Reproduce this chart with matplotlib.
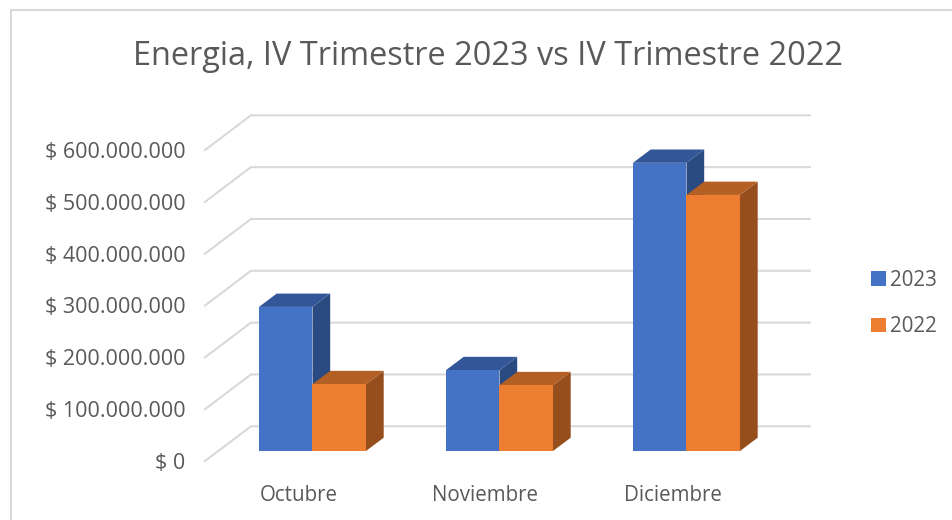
import matplotlib
matplotlib.use("Agg")
import matplotlib.pyplot as plt
from matplotlib.lines import Line2D
from matplotlib.patches import Patch, Polygon

categories = ["Octubre", "Noviembre", "Diciembre"]
series_names = ["2023", "2022"]
values_2023 = [278e6, 156e6, 556e6]
values_2022 = [129e6, 127e6, 494e6]
y_ticks = [0, 100e6, 200e6, 300e6, 400e6, 500e6, 600e6]
y_labels = ["$ 0", "$ 100.000.000", "$ 200.000.000", "$ 300.000.000",
            "$ 400.000.000", "$ 500.000.000", "$ 600.000.000"]
title = "Energia, IV Trimestre 2023 vs IV Trimestre 2022"

W, H = 953, 520
TEXT = "#595959"
GRID = "#d9d9d9"
FRONT = ["#4472c4", "#ed7d31"]
TOP = ["#325697", "#b45f24"]
SIDE = ["#2a4a82", "#964f1c"]

plt.rcParams["font.family"] = ["Open Sans", "DejaVu Sans"]
fig = plt.figure(figsize=(W / 100, H / 100), dpi=100)
L, R, T, B = 205, 766, 150, 461
ax = fig.add_axes([L / W, 1 - B / H, (R - L) / W, (B - T) / H])
ax.set_xlim(-0.5, 2.5)
ax.set_ylim(0, 600e6)
ax.patch.set_alpha(0)
for s in ax.spines.values():
    s.set_visible(False)

px_x = 3 / (R - L)          # category units per pixel
px_y = 600e6 / (B - T)      # value units per pixel
wall_dx, wall_dy = 46 * px_x, 34.7 * px_y
wall_end = 2.5 + 44 * px_x
bar_dx, bar_dy = 17.7 * px_x, 13.3 * px_y
off_dx, off_dy = 14 * px_x, 10 * px_y
bar_w = 53.5 * px_x

for v in y_ticks:
    ax.plot([-0.5, -0.5 + wall_dx, wall_end], [v, v + wall_dy, v + wall_dy],
            color=GRID, lw=1.5, clip_on=False, zorder=1, solid_joinstyle="miter")

z = 2
for i, c in enumerate(categories):
    for j, vals in enumerate([values_2023, values_2022]):
        v = vals[i]
        x0 = i + off_dx + (j - 1) * bar_w
        x1 = x0 + bar_w
        y0 = off_dy
        y1 = off_dy + v
        ax.add_patch(Polygon([(x1, y0), (x1 + bar_dx, y0 + bar_dy), (x1 + bar_dx, y1 + bar_dy), (x1, y1)],
                             closed=True, fc=SIDE[j], ec="none", clip_on=False, zorder=z))
        ax.add_patch(Polygon([(x0, y1), (x0 + bar_dx, y1 + bar_dy), (x1 + bar_dx, y1 + bar_dy), (x1, y1)],
                             closed=True, fc=TOP[j], ec="none", clip_on=False, zorder=z))
        ax.bar(x0, v, width=bar_w, bottom=y0, align="edge", color=FRONT[j], clip_on=False, zorder=z + 0.5)
        z += 1

ax.set_xticks(range(len(categories)), categories)
ax.set_yticks(y_ticks, y_labels)
ax.tick_params(axis="both", length=0, colors=TEXT, labelsize=14.8)
ax.tick_params(axis="y", pad=14, labelsize=15.5)
ax.tick_params(axis="x", pad=17)

fig.text(488.5 / W, 1 - 56.5 / H, title, ha="center", va="center", fontsize=23.45, color=TEXT)

handles = [Patch(fc=FRONT[k], ec="none") for k in range(2)]
fig.legend(handles, series_names, loc="upper left", bbox_to_anchor=(853 / W, 1 - 251 / H),
           frameon=False, fontsize=14.8, labelcolor=TEXT, handlelength=0.7, handleheight=0.7,
           handletextpad=0.2, labelspacing=1.25, borderaxespad=0.5)

fig.add_artist(Line2D([11 / W, 11 / W, 1], [0, 1 - 9.5 / H, 1 - 9.5 / H], transform=fig.transFigure,
                      color=GRID, lw=1.5, solid_joinstyle="miter"))
fig.savefig("out.png", dpi=100)
